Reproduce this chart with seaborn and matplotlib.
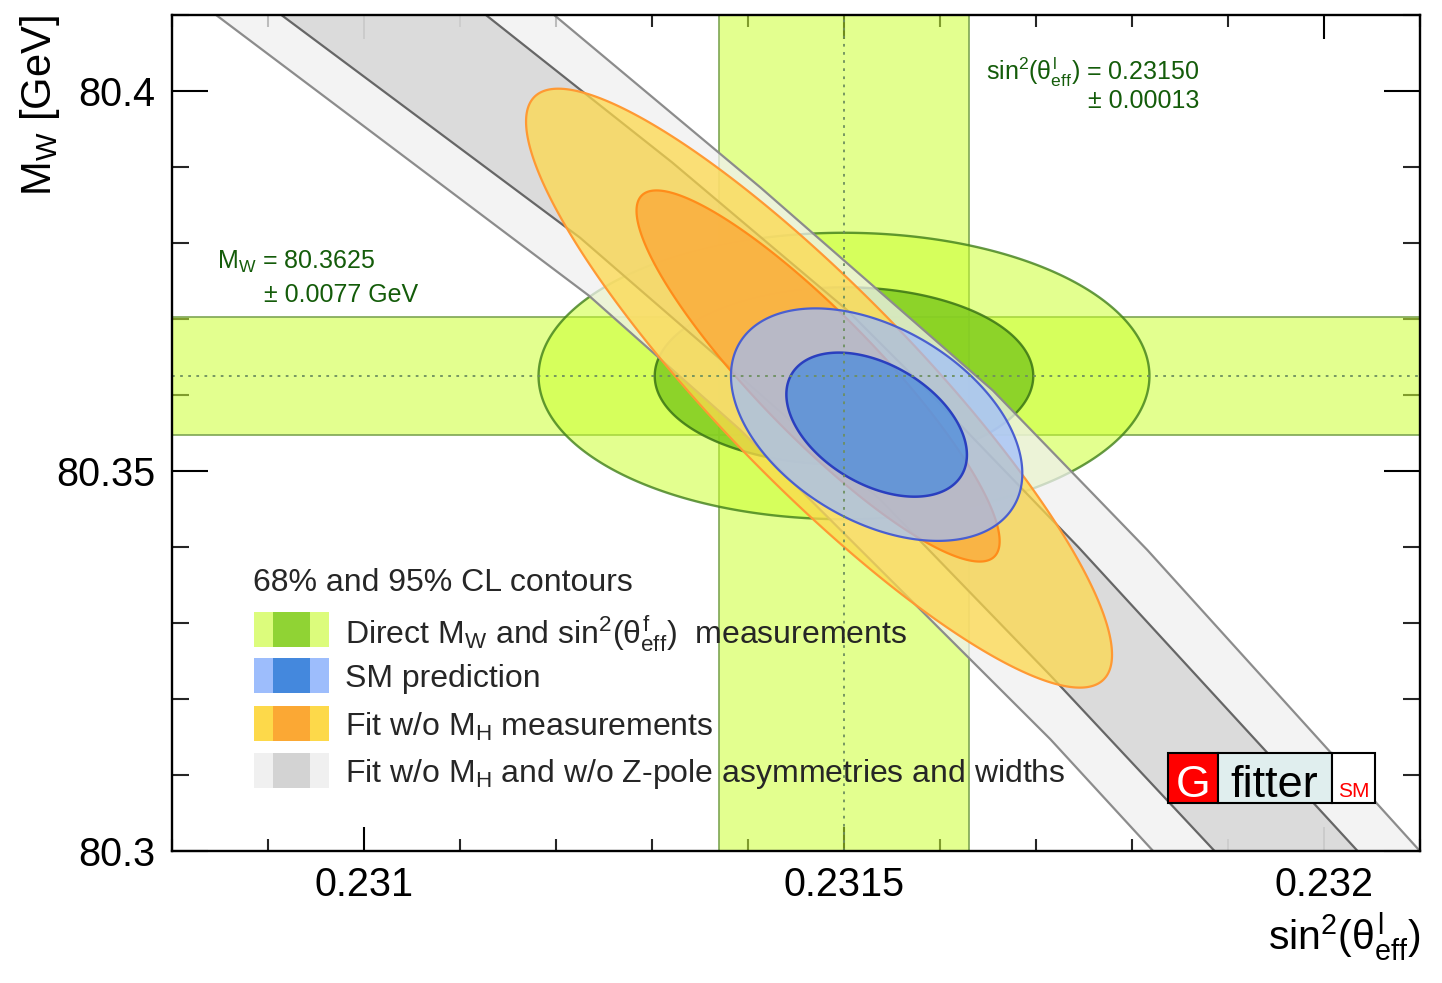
import numpy as np
import matplotlib
matplotlib.use("Agg")
import matplotlib.pyplot as plt
import matplotlib.ticker as mticker
from matplotlib.patches import Rectangle
from matplotlib.colors import to_rgba
import seaborn as sns

# ---------------- data ----------------
x_major_ticks = [0.2310, 0.2315, 0.2320]
x_tick_labels = ["0.231", "0.2315", "0.232"]
y_major_ticks = [80.30, 80.35, 80.40]
y_tick_labels = ["80.3", "80.35", "80.4"]

# direct measurements
sw_meas, sw_err = 0.23150, 0.00013
mw_meas, mw_err = 80.3625, 0.0077

# delta chi2 for 68% and 95% CL (2 dof)
cl_dchi2 = [2.30, 5.99]

# SM prediction (gaussian approximation), per CL level [68, 95]
sm_cx = [0.231534, 0.231534]
sm_cy = [80.3561, 80.3561]
sm_sx = 6.2e-5
sm_sy = 0.00625
sm_rho = -0.42

# fit w/o MH measurement, per CL level [68, 95]
fit_cx = [0.231473, 0.231474]
fit_cy = [80.3625, 80.3609]
fit_sx = 1.247e-4
fit_sy = 0.0161
fit_rho = -0.89

# fit w/o MH and w/o Z-pole asymmetries: band edges
b95_left_x = [0.230756, 0.230847, 0.231234, 0.231392, 0.231715, 0.231822, 0.231918]
b95_left_y = [80.4185, 80.4099, 80.3731, 80.3554, 80.3147, 80.3000, 80.2871]
b95_right_x = [0.231119, 0.231199, 0.231413, 0.231655, 0.231816, 0.232097, 0.232194]
b95_right_y = [80.4185, 80.4099, 80.3873, 80.3606, 80.3396, 80.3004, 80.2871]
b68_left_x = [0.230824, 0.230915, 0.231225, 0.231384, 0.231538, 0.231715, 0.231886, 0.231983]
b68_left_y = [80.4185, 80.4099, 80.3807, 80.3633, 80.3462, 80.3231, 80.3000, 80.2871]
b68_right_x = [0.231043, 0.231128, 0.231321, 0.231503, 0.231576, 0.231744, 0.232035, 0.232129]
b68_right_y = [80.4185, 80.4099, 80.3906, 80.3712, 80.3620, 80.3400, 80.3000, 80.2871]

legend_title = "68% and 95% CL contours"
legend_labels = [
    r"Direct M$_{\mathrm{W}}$ and sin$^{2}$($\theta^{\mathrm{f}}_{\mathrm{eff}}$)  measurements",
    "SM prediction",
    r"Fit w/o M$_{\mathrm{H}}$ measurements",
    r"Fit w/o M$_{\mathrm{H}}$ and w/o Z-pole asymmetries and widths",
]
legend_light = ["#dcfc7c", "#9dbdfc", "#fdd94a", "#f0f0f0"]
legend_dark = ["#90d334", "#4488dd", "#fba834", "#d3d3d3"]

# ---------------- style ----------------
sns.set_theme(style="ticks")
plt.rcParams["font.family"] = ["Liberation Sans", "DejaVu Sans"]
plt.rcParams["mathtext.fontset"] = "custom"
plt.rcParams["mathtext.rm"] = "Liberation Sans"
plt.rcParams["mathtext.it"] = "Liberation Sans"
plt.rcParams["mathtext.sf"] = "Liberation Sans"
plt.rcParams["mathtext.bf"] = "Liberation Sans:bold"
plt.rcParams["axes.facecolor"] = "white"

fig = plt.figure(figsize=(14.42, 9.83), dpi=100)
fig.patch.set_facecolor("white")
ax = fig.add_axes([172 / 1442, 1 - 851 / 983, 1248 / 1442, 836 / 983])


def gauss_contour(cx, cy, sx, sy, rho, dchi2, n=400):
    t = np.linspace(0, 2 * np.pi, n)
    k = np.sqrt(dchi2)
    x = cx + k * sx * np.cos(t)
    y = cy + k * sy * (rho * np.cos(t) + np.sqrt(1 - rho ** 2) * np.sin(t))
    return x, y


# green bands from direct measurements
band_col = to_rgba("#ccff33", 0.55)
ax.axvspan(sw_meas - sw_err, sw_meas + sw_err, fc=band_col, ec="none", zorder=1)
ax.axhspan(mw_meas - mw_err, mw_meas + mw_err, fc=band_col, ec="none", zorder=1)
for v in (sw_meas - sw_err, sw_meas + sw_err):
    ax.axvline(v, color="#7ea654", lw=1.2, zorder=1.1)
for v in (mw_meas - mw_err, mw_meas + mw_err):
    ax.axhline(v, color="#7ea654", lw=1.2, zorder=1.1)

# green ellipses (uncorrelated)
gx, gy = gauss_contour(sw_meas, mw_meas, sw_err, mw_err, 0.0, cl_dchi2[1])
ax.fill(gx, gy, fc=to_rgba("#ccff33", 0.55), ec=to_rgba("#3f7f1a", 0.8), lw=1.7, zorder=2)
gx, gy = gauss_contour(sw_meas, mw_meas, sw_err, mw_err, 0.0, cl_dchi2[0])
ax.fill(gx, gy, fc=to_rgba("#80cc20", 0.85), ec=to_rgba("#3a7415", 0.85), lw=1.7, zorder=2.1)

# gray bands
ax.fill(b95_left_x + b95_right_x[::-1], b95_left_y + b95_right_y[::-1],
        fc=to_rgba("#f0f0f0", 0.75), ec="none", zorder=3)
ax.fill(b68_left_x + b68_right_x[::-1], b68_left_y + b68_right_y[::-1],
        fc=to_rgba("#d4d4d4", 0.75), ec="none", zorder=3.1)
for xs, ys, c in [(b95_left_x, b95_left_y, "#8c8c8c"), (b95_right_x, b95_right_y, "#8c8c8c"),
                  (b68_left_x, b68_left_y, "#666666"), (b68_right_x, b68_right_y, "#666666")]:
    sns.lineplot(x=xs, y=ys, sort=False, estimator=None, color=c, lw=1.6, ax=ax, zorder=3.2)

# orange fit contours
fx, fy = gauss_contour(fit_cx[1], fit_cy[1], fit_sx, fit_sy, fit_rho, cl_dchi2[1])
ax.fill(fx, fy, fc=to_rgba("#fdd94c", 0.75), ec="#ff9933", lw=1.6, zorder=4)
fx, fy = gauss_contour(fit_cx[0], fit_cy[0], fit_sx, fit_sy, fit_rho, cl_dchi2[0])
ax.fill(fx, fy, fc=to_rgba("#fca837", 0.75), ec="#ff8c1a", lw=1.6, zorder=4.1)

# blue SM prediction contours
bx, by = gauss_contour(sm_cx[1], sm_cy[1], sm_sx, sm_sy, sm_rho, cl_dchi2[1])
ax.fill(bx, by, fc=to_rgba("#9dbcff", 0.7), ec="#4a5fd0", lw=1.6, zorder=5)
bx, by = gauss_contour(sm_cx[0], sm_cy[0], sm_sx, sm_sy, sm_rho, cl_dchi2[0])
ax.fill(bx, by, fc=to_rgba("#4488dd", 0.7), ec="#2a3fbf", lw=1.8, zorder=5.1)

# dotted central values
ax.axvline(sw_meas, color="#6d8f5f", lw=1.3, ls=(0, (1.5, 3)), zorder=6)
ax.axhline(mw_meas, color="#6d8f5f", lw=1.3, ls=(0, (1.5, 3)), zorder=6)

# axes
ax.set_xlim(0.2308, 0.2321)
ax.set_ylim(80.30, 80.41)
ax.xaxis.set_major_locator(mticker.FixedLocator(x_major_ticks))
ax.xaxis.set_major_formatter(mticker.FixedFormatter(x_tick_labels))
ax.xaxis.set_minor_locator(mticker.MultipleLocator(0.0001))
ax.yaxis.set_major_locator(mticker.FixedLocator(y_major_ticks))
ax.yaxis.set_major_formatter(mticker.FixedFormatter(y_tick_labels))
ax.yaxis.set_minor_locator(mticker.MultipleLocator(0.01))
ax.tick_params(axis="x", which="major", length=17, width=1.5, direction="in",
               top=True, bottom=True, labelsize=28.5, pad=11, colors="black")
ax.tick_params(axis="x", which="minor", length=8.5, width=1.5, direction="in", top=True, bottom=True)
ax.tick_params(axis="y", which="major", length=26, width=1.5, direction="in",
               left=True, right=True, labelsize=28.5, pad=12, colors="black")
ax.tick_params(axis="y", which="minor", length=12.5, width=1.5, direction="in", left=True, right=True)
for s in ax.spines.values():
    s.set_linewidth(1.7)
    s.set_color("black")
    s.set_zorder(20)
ax.grid(False)

ax.set_xlabel(r"sin$^{2}$($\theta^{\mathrm{l}}_{\mathrm{eff}}$)", fontsize=29.5, loc="right", color="black")
ax.xaxis.set_label_coords(1.0, -0.071)
ax.set_ylabel(r"M$_{\mathrm{W}}$ [GeV]", fontsize=30, loc="top", color="black")
ax.yaxis.set_label_coords(-0.088, 1.0)

# annotations
green_txt = "#145c0a"
ax.text(0.036, 0.697, r"M$_{\mathrm{W}}$ = 80.3625", transform=ax.transAxes, fontsize=18,
        color=green_txt, va="baseline", ha="left", zorder=8)
ax.text(0.0737, 0.657, "\u00b1 0.0077 GeV", transform=ax.transAxes, fontsize=18,
        color=green_txt, va="baseline", ha="left", zorder=8)
ax.text(0.8229, 0.922, r"sin$^{2}$($\theta^{\mathrm{l}}_{\mathrm{eff}}$) = 0.23150", transform=ax.transAxes,
        fontsize=18, color=green_txt, va="baseline", ha="right", zorder=8)
ax.text(0.8229, 0.889, "\u00b1 0.00013", transform=ax.transAxes, fontsize=18,
        color=green_txt, va="baseline", ha="right", zorder=8)

# legend
ax.text(0.0649, 0.311, legend_title, transform=ax.transAxes, fontsize=23, va="baseline", zorder=9)
sw_y0 = [0.2440, 0.1890, 0.1316, 0.0754]
sw_h = 0.0415
txt_base = [0.2488, 0.1962, 0.1376, 0.0825]
for i in range(4):
    for (x0, x1, c) in [(0.0657, 0.0809, legend_light[i]), (0.0809, 0.1106, legend_dark[i]),
                        (0.1106, 0.1258, legend_light[i])]:
        ax.add_patch(Rectangle((x0, sw_y0[i]), x1 - x0, sw_h, transform=ax.transAxes,
                               fc=c, ec="none", zorder=9))
    ax.text(0.1386, txt_base[i], legend_labels[i], transform=ax.transAxes, fontsize=23,
            va="baseline", ha="left", zorder=9)

# Gfitter logo
ly0, lh = 0.0574, 0.0598
for (x0, x1, c) in [(0.798, 0.838, "#ff0000"), (0.838, 0.9295, "#e0eeee"), (0.9295, 0.964, "white")]:
    ax.add_patch(Rectangle((x0, ly0), x1 - x0, lh, transform=ax.transAxes, fc=c, ec="black",
                           lw=1.5, zorder=10))
ax.text(0.818, 0.0646, "G", transform=ax.transAxes, fontsize=32, color="white",
        ha="center", va="baseline", zorder=11)
ax.text(0.8835, 0.0646, "fitter", transform=ax.transAxes, fontsize=32.5, color="black",
        ha="center", va="baseline", zorder=11)
ax.text(0.9466, 0.0646, "SM", transform=ax.transAxes, fontsize=15, color="#ff0000",
        ha="center", va="baseline", zorder=11)

fig.savefig("out.png", dpi=100, facecolor="white")
